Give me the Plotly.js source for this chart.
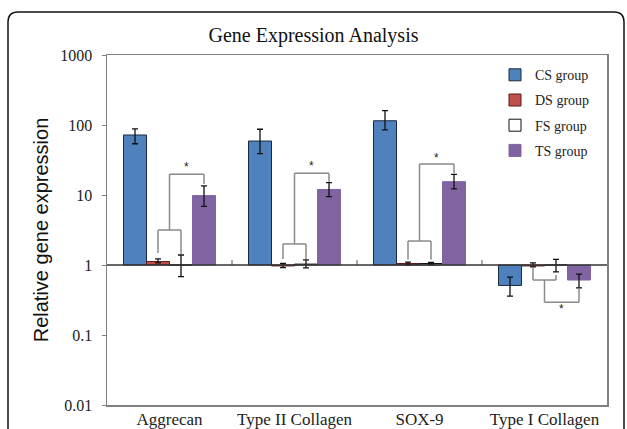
<!DOCTYPE html>
<html><head><meta charset="utf-8">
<script src="https://cdn.plot.ly/plotly-3.0.1.min.js"></script>
<style>html,body{margin:0;padding:0;background:#fff}</style>
</head><body><div id="chart" style="width:627px;height:429px"></div>
<script>
// ---- data ----
const categories = ['Aggrecan', 'Type II Collagen', 'SOX-9', 'Type I Collagen'];
const groupNames = ['CS group', 'DS group', 'FS group', 'TS group'];
const csValues = [72, 59, 115, 0.51];
const csErrPlus = [16, 28, 45, 0.16];
const csErrMinus = [18, 20, 30, 0.15];
const dsValues = [1.12, 0.97, 1.05, 0.97];
const dsErrPlus = [0.1, 0.08, 0.05, 0.1];
const dsErrMinus = [0.05, 0.05, 0.05, 0.03];
const fsValues = [1.0, 1.03, 1.05, 1.0];
const fsErrPlus = [0.39, 0.15, 0.04, 0.2];
const fsErrMinus = [0.32, 0.12, 0.04, 0.2];
const tsValues = [9.8, 12, 15.5, 0.61];
const tsErrPlus = [3.7, 3, 4.2, 0.13];
const tsErrMinus = [2.9, 2.5, 3.3, 0.14];
const yTickVals = [0.01, 0.1, 1, 10, 100, 1000];
const yTickText = ['0.01', '0.1', '1', '10', '100', '1000'];
const baseline = 1;

// ---- styles ----
const SERIF = 'Liberation Serif, Times New Roman, serif';
const SANS = 'Liberation Sans, Arial, sans-serif';
const series = [
  {vals: csValues, ep: csErrPlus, em: csErrMinus, fill: '#4F81BD', edge: '#1a2a40'},
  {vals: dsValues, ep: dsErrPlus, em: dsErrMinus, fill: '#C0504D', edge: '#5a1a18'},
  {vals: fsValues, ep: fsErrPlus, em: fsErrMinus, fill: '#ffffff', edge: '#111111'},
  {vals: tsValues, ep: tsErrPlus, em: tsErrMinus, fill: '#8064A2', edge: '#8064A2'}
];

const traces = series.map((s, k) => ({
  type: 'bar',
  name: groupNames[k],
  legendgroup: 'g' + k,
  x: categories,
  y: s.vals.map(v => v - baseline),
  base: baseline,
  marker: {color: s.fill, line: {color: s.edge, width: 1}},
  error_y: {type: 'data', symmetric: false, array: s.ep, arrayminus: s.em,
            color: '#111', thickness: 1.3, width: 3}
}));

// significance brackets (layout decoration)
const bracketSpec = [
  {small: 3.16, legL: 1.48, legR: 1.42, big: 19.8, legT: 14.4, star: 25},
  {small: 2.0, legL: 1.22, legR: 1.22, big: 20.4, legT: 15.5, star: 26},
  {small: 2.2, legL: 1.2, legR: 1.2, big: 27.7, legT: 20.4, star: 34},
  {small: 0.61, legL: 0.915, legR: 0.72, big: 0.293, legT: 0.465, star: 0.235}
];
const dx = 0.092, tx = 0.276;
const shapes = [];
const annotations = [];
const gray = {color: '#8a8a8a', width: 1.5};
function seg(x0, y0, x1, y1, line) {
  shapes.push({type: 'line', xref: 'x', yref: 'y', x0, y0, x1, y1, line: line || gray});
}
bracketSpec.forEach((b, i) => {
  seg(i - dx, b.legL, i - dx, b.small);
  seg(i - dx, b.small, i + dx, b.small);
  seg(i + dx, b.small, i + dx, b.legR);
  seg(i, b.small, i, b.big);
  seg(i, b.big, i + tx, b.big);
  seg(i + tx, b.big, i + tx, b.legT);
  annotations.push({xref: 'x', yref: 'y', x: i + tx / 2, y: Math.log10(b.star), text: '*',
    showarrow: false, font: {family: SANS, size: 12, color: '#222'}});
});
// category tick marks on the baseline
[0.5, 1.5, 2.5].forEach(p => seg(p, 1, p, 1.18, {color: '#555', width: 1}));
// baseline at 1
shapes.push({type: 'line', xref: 'paper', yref: 'y', x0: 0, x1: 1, y0: 1, y1: 1,
  line: {color: '#333', width: 1.5}});
// outer rounded frame
shapes.push({type: 'path', xref: 'paper', yref: 'paper',
  path: 'M -0.198,-0.1 L -0.198,1.0943 Q -0.198,1.1229 -0.178,1.1229 L 1.014,1.1229 Q 1.034,1.1229 1.034,1.0943 L 1.034,-0.1',
  line: {color: '#111', width: 1.5}});

const layout = {
  width: 627, height: 429,
  margin: {l: 107, r: 20, t: 55, b: 24},
  paper_bgcolor: '#fff', plot_bgcolor: '#fff',
  barmode: 'group', bargap: 0.264, bargroupgap: 0,
  showlegend: true,
  title: {text: 'Gene Expression Analysis', font: {family: SERIF, size: 20, color: '#111'},
    x: 0.5, xref: 'container', xanchor: 'center', y: 1 - 35 / 429, yref: 'container', yanchor: 'middle'},
  xaxis: {type: 'category', showline: true, mirror: true, linecolor: '#7f7f7f', linewidth: 1.5,
    ticks: '', showgrid: false, zeroline: false, ticklabelstandoff: -2,
    tickfont: {family: SERIF, size: 17, color: '#222'}},
  yaxis: {type: 'log', range: [-2, 3], tickvals: yTickVals, ticktext: yTickText,
    showline: true, mirror: true, linecolor: '#7f7f7f', linewidth: 1.5,
    ticks: 'outside', ticklen: 4, tickcolor: '#7f7f7f', ticklabelstandoff: 6,
    showgrid: false, zeroline: false,
    tickfont: {family: SERIF, size: 16, color: '#222'},
    title: {text: 'Relative gene expression', font: {family: SANS, size: 20, color: '#111'}, standoff: 6}},
  legend: {x: 0.976, xanchor: 'right', y: 0.988, yanchor: 'top', bgcolor: 'rgba(0,0,0,0)',
    traceorder: 'grouped', tracegroupgap: 4,
    font: {family: SERIF, size: 14, color: '#222'}},
  shapes: shapes,
  annotations: annotations
};

Plotly.newPlot('chart', traces, layout, {displayModeBar: false, staticPlot: true});
</script>
</body></html>
